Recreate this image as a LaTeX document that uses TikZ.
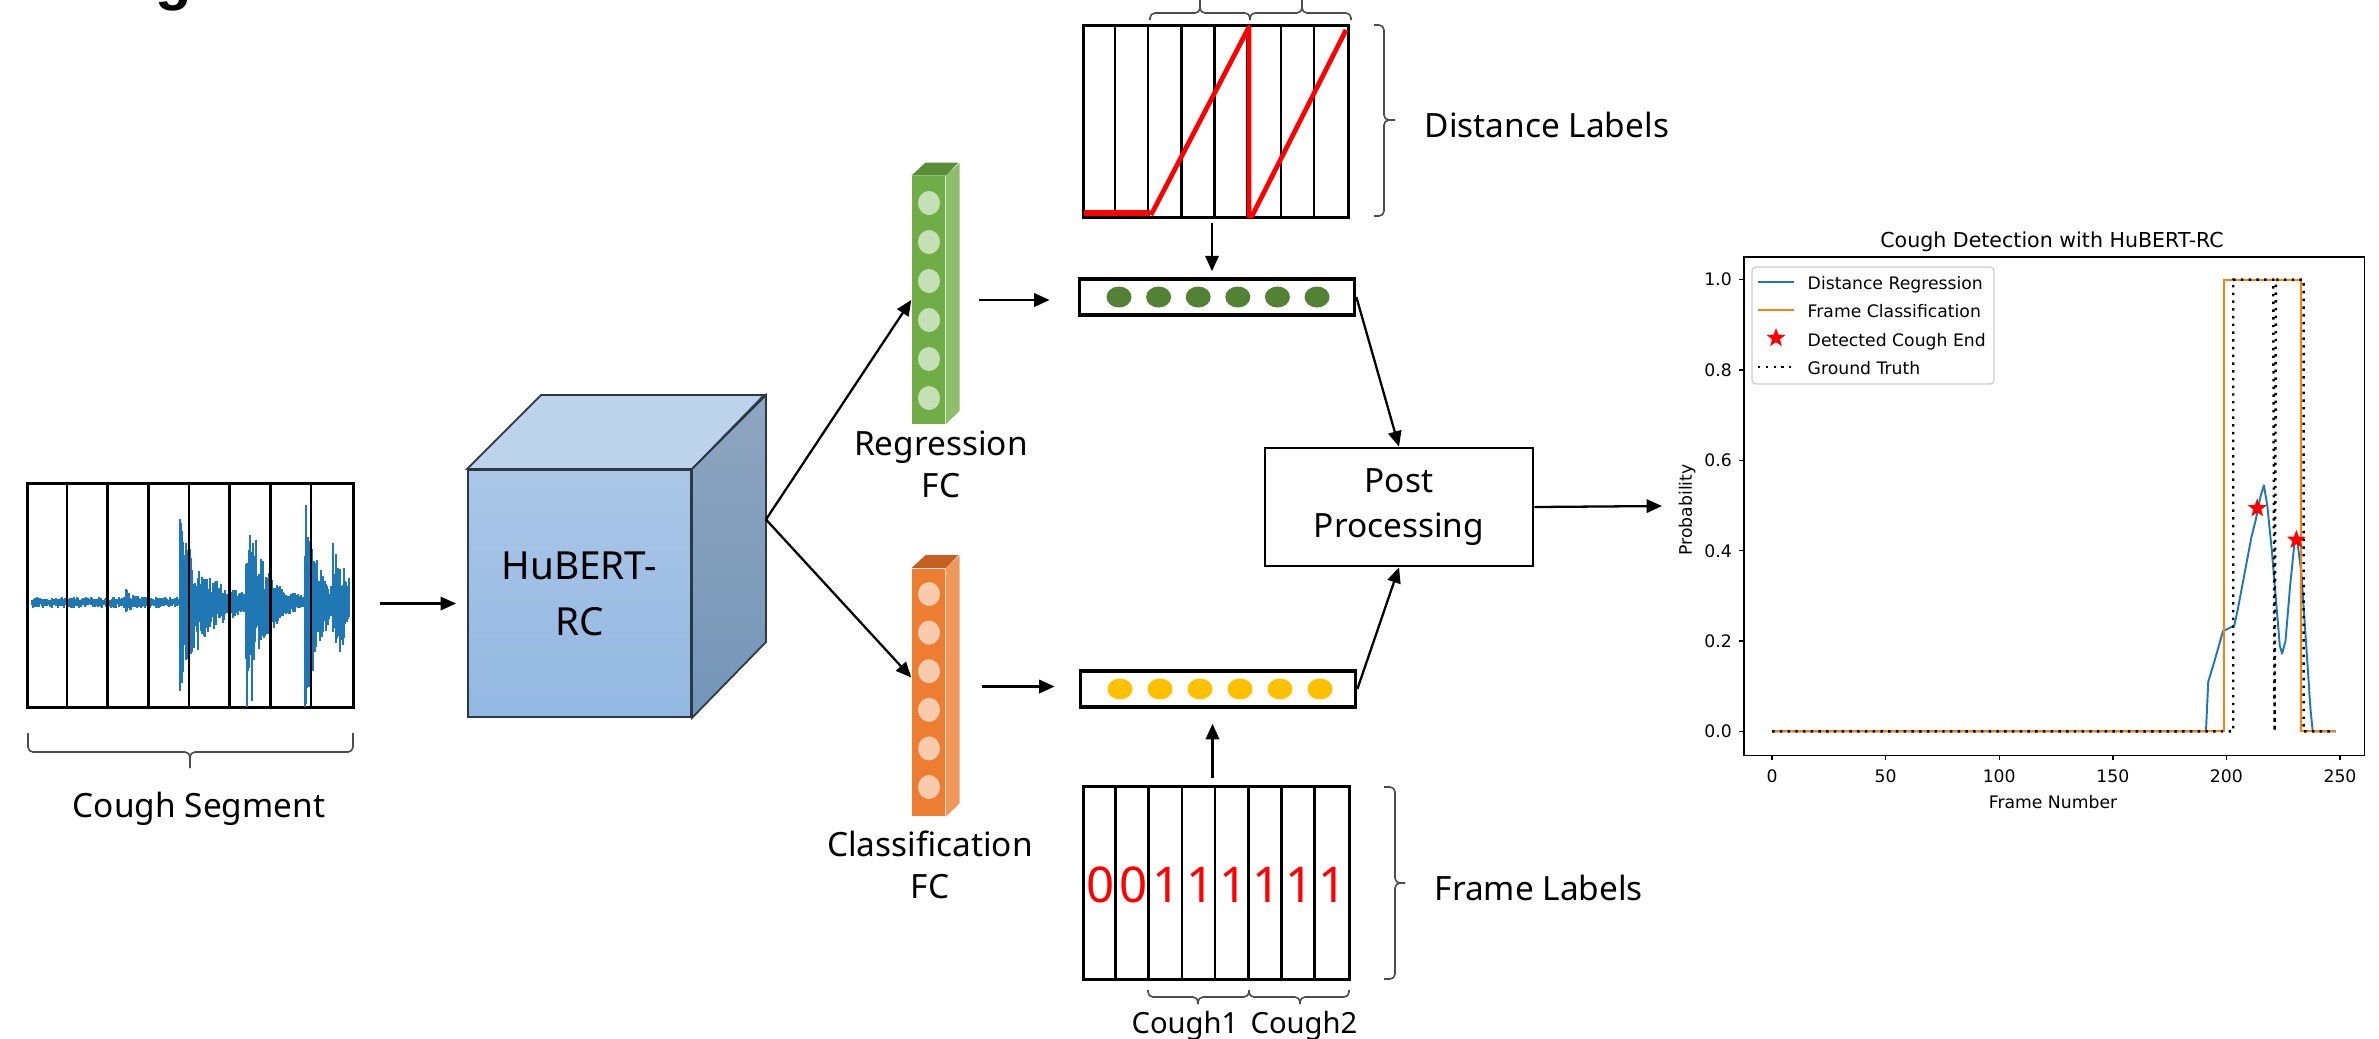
\documentclass[tikz,border=0pt]{standalone}
\usepackage{fontspec}
\setmainfont{Noto Sans}
\newfontfamily\plotfont{DejaVu Sans}
\newfontfamily\headfont{Liberation Sans}
\usetikzlibrary{arrows.meta,shapes.geometric}
\definecolor{mplblue}{HTML}{1F77B4}
\definecolor{mplorange}{HTML}{FF7F0E}
\definecolor{cubetop}{HTML}{BDD3EC}
\definecolor{cubeup}{HTML}{AAC6E7}
\definecolor{cubedown}{HTML}{93B8E2}
\definecolor{cubeside}{HTML}{8EA6C0}
\definecolor{cubeshadow}{HTML}{7495B8}
\definecolor{cubeedge}{HTML}{2B3846}
\definecolor{gfront}{HTML}{70AD47}
\definecolor{gside}{HTML}{8FBE6B}
\definecolor{gtop}{HTML}{5B8D38}
\definecolor{gunit}{HTML}{C5E0B4}
\definecolor{ofront}{HTML}{ED7D31}
\definecolor{oside}{HTML}{F0985C}
\definecolor{otop}{HTML}{C55F22}
\definecolor{ounit}{HTML}{F8CBAD}
\definecolor{gdot}{HTML}{548235}
\definecolor{ydot}{HTML}{FFC000}
\tikzset{%
  labelbox/.style = {shape=rectangle, draw, line width=0.85pt,%
                     minimum width=2.655cm, minimum height=1.925cm},%
  gridline/.style = {line width=0.75pt},%
  vecbox/.style   = {shape=rectangle, draw, line width=1pt,%
                     minimum width=2.75cm, minimum height=0.36cm},%
  fcbar/.style    = {shape=rectangle, minimum width=0.33cm, minimum height=2.47cm},%
  hint/.style     = {draw=black!70, line width=0.45pt, rounded corners=0.05cm},%
  arr/.style      = {->, line width=0.65pt},%
  digit/.style    = {anchor=base, text=red, font=\fontsize{14}{16}\selectfont},%
  plotnode/.style = {font=\plotfont\fontsize{4.9}{6}\selectfont},%
  gtline/.style   = {line width=0.7pt, dash pattern=on 0.7pt off 1.5pt},%
  redstar/.style  = {star, star points=5, star point ratio=2.4, fill=red,%
                     minimum size=0.2cm}%
}
\begin{document}
\begin{tikzpicture}[x=0.01cm, y=-0.01cm,
	every node/.style = {font=\fontsize{9.5}{12}\selectfont, inner sep=0pt},
	>={Triangle[length=4.4pt,width=3.8pt]}]
\useasboundingbox (0,0) rectangle (2379,1038);
	\node[anchor=base, font=\headfont\bfseries\fontsize{17}{20}\selectfont] (figtitle) at (174,-2) {g};
% input segment
	\node[labelbox, minimum width=3.25cm, minimum height=2.23cm] (seg) at (190.5,595.5) {};
	\begin{scope}
		\clip ([shift={(0.02cm,-0.02cm)}]seg.north west) rectangle ([shift={(-0.02cm,0.02cm)}]seg.south east);
		\pgfmathsetseed{42}
		\foreach \x in {32,...,349}{
			\pgfmathsetmacro{\env}{5+9*(\x>125)*exp(-max(0,\x-126)/5)+78*(\x>179)*exp(-max(0,\x-180)/24)+115*(\x>245)*exp(-max(0,\x-246)/14)+98*(\x>304)*exp(-max(0,\x-305)/13)+48*(\x>332)*exp(-max(0,\x-333)/16)}
			\pgfmathsetmacro{\up}{\env*(0.3+0.7*rnd)}
			\pgfmathsetmacro{\dn}{\env*(0.35+0.85*rnd)}
			\draw[mplblue, line width=0.4pt] (\x,602-\up) -- (\x,602+\dn);
		}
	\end{scope}
	\foreach \k in {1,...,7}
		\draw[gridline] ([xshift=\k*0.40625cm]seg.north west) -- ([xshift=\k*0.40625cm]seg.south west);
	\draw[hint] (28,733) |- (190,752) -- (190,768);
	\draw[hint] (353,733) |- (190,752) -- (190,768);
	\node[anchor=base] (seglab) at (199,817) {Cough Segment};
% encoder
	\node[shape=rectangle, draw=cubeedge, line width=0.5pt, top color=cubeup, bottom color=cubedown,
		minimum width=2.23cm, minimum height=2.47cm, align=center,
		font=\fontsize{11}{16}\selectfont] (cube) at (579.5,593.5) {HuBERT-\\RC};
	\filldraw[draw=cubeedge, fill=cubetop, line width=0.5pt] (cube.north west) -- ++(74,-74) -- ++(223,0) -- (cube.north east) -- cycle;
	\shadedraw[draw=cubeedge, top color=cubeside, bottom color=cubeshadow, line width=0.5pt] (cube.north east) -- ++(74,-74) -- ++(0,247) -- (cube.south east) -- cycle;
	\coordinate (cubeout) at ([shift={(0.74cm,0.74cm)}]cube.east);
% heads
	\node[fcbar, fill=gfront] (regfc) at (928.5,300) {};
	\fill[gside] (regfc.north east) -- ++(14,-13) -- ++(0,248) -- (regfc.south east) -- cycle;
	\fill[gtop] (regfc.north west) -- ++(14,-13) -- ++(33,0) -- (regfc.north east) -- cycle;
	\foreach \k in {0,...,5}
		\fill[gunit] (929,203+39*\k) ellipse [x radius=0.11cm, y radius=0.12cm];
	\node[align=center] (reglab) at (941,464) {Regression\\FC};
	\node[fcbar, fill=ofront] (clsfc) at (928.5,692.5) {};
	\fill[oside] (clsfc.north east) -- ++(14,-13) -- ++(0,248) -- (clsfc.south east) -- cycle;
	\fill[otop] (clsfc.north west) -- ++(14,-13) -- ++(33,0) -- (clsfc.north east) -- cycle;
	\foreach \k in {0,...,5}
		\fill[ounit] (929,594+38.6*\k) ellipse [x radius=0.11cm, y radius=0.12cm];
	\node[align=center] (clslab) at (930,864.5) {Classification\\FC};
% outputs and targets
	\node[vecbox] (regvec) at (1217,297) {};
	\foreach \k in {0,...,5}
		\fill[gdot] (1119+39.6*\k,297) ellipse [x radius=0.125cm, y radius=0.105cm];
	\node[vecbox] (clsvec) at (1218,689) {};
	\foreach \k in {0,...,5}
		\fill[ydot] (1120+40*\k,689) ellipse [x radius=0.125cm, y radius=0.105cm];
	\node[labelbox] (distlab) at (1216,121.5) {};
	\foreach \k in {1,...,7}
		\draw[gridline] ([xshift=\k*0.3319cm]distlab.north west) -- ([xshift=\k*0.3319cm]distlab.south west);
	\draw[red, line width=1.8pt] (1084,213) -- (1150,213);
	\draw[red, line width=1.35pt, line join=round] (1151,215) -- (1249,27) -- (1249,216) -- (1252,216) -- (1346,30);
	\draw[hint] (1150,20) |- (1200,13) -- (1200,-2);
	\draw[hint] (1250,20) |- (1200,13) -- (1200,-2);
	\draw[hint] (1250,20) |- (1302,13) -- (1302,-2);
	\draw[hint] (1351,20) |- (1302,13) -- (1302,-2);
	\draw[hint] (1374,25) -| (1384,120) -- (1395,120);
	\draw[hint] (1374,216) -| (1384,120) -- (1395,120);
	\node[anchor=base west] (distname) at (1424,137) {Distance Labels};
	\node[labelbox] (framelab) at (1216.5,883) {};
	\foreach \k in {1,...,7}
		\draw[gridline] ([xshift=\k*0.3319cm]framelab.north west) -- ([xshift=\k*0.3319cm]framelab.south west);
	\foreach \d [count=\k] in {0,0,1,1,1,1,1,1}
		\node[digit] (d\k) at (1084+33.19*\k-16.6,902) {\d};
	\draw[hint] (1384,787) -| (1395,883) -- (1405,883);
	\draw[hint] (1384,979) -| (1395,883) -- (1405,883);
	\node[anchor=base west] (framename) at (1434,900) {Frame Labels};
	\draw[hint] (1148,990) |- (1198,997) -- (1198,1004);
	\draw[hint] (1249,990) |- (1198,997) -- (1198,1004);
	\draw[hint] (1249,990) |- (1300,997) -- (1300,1004);
	\draw[hint] (1349,990) |- (1300,997) -- (1300,1004);
	\node[anchor=base, font=\fontsize{8.3}{10}\selectfont] (cough1) at (1185,1033) {Cough1};
	\node[anchor=base, font=\fontsize{8.3}{10}\selectfont] (cough2) at (1304,1033) {Cough2};
	\node[draw, line width=0.75pt, minimum width=2.68cm, minimum height=1.18cm, align=center,
		font=\fontsize{9.5}{13}\selectfont] (post) at (1399,507) {Post\\Processing};
	\coordinate (plotin) at (1662,506);
% connectors
	\draw[arr, shorten <=0.25cm, shorten >=0.11cm] ([yshift=-0.08cm]seg.east) -- ([yshift=-0.08cm]seg.east -| cube.west);
	\draw[arr] (cubeout) -- (regfc.west);
	\draw[arr] (cubeout) -- ([yshift=0.15cm]clsfc.west);
	\draw[arr, shorten <=0.33cm, shorten >=0.28cm] (regfc.east) -- (regfc.east -| regvec.west);
	\draw[arr, shorten <=0.36cm, shorten >=0.24cm] ([yshift=0.06cm]clsfc.east) -- ([yshift=0.06cm]clsfc.east -| clsvec.west);
	\draw[arr, shorten <=0.04cm, shorten >=0.06cm] ([xshift=-0.04cm]distlab.south) -- ([xshift=-0.04cm]distlab.south |- regvec.north);
	\draw[arr, shorten <=0.07cm, shorten >=0.15cm] ([xshift=-0.04cm]framelab.north) -- ([xshift=-0.04cm]framelab.north |- clsvec.south);
	\draw[arr] (regvec.east) -- (post.north);
	\draw[arr] (clsvec.east) -- (post.south);
	\draw[arr] (post.east) -- (plotin);
% result plot
	\begin{scope}[xshift=17.71cm, yshift=-7.31cm, x=0.0227cm, y=4.515cm]
		\foreach \t in {0,50,...,250}{
			\draw[line width=0.4pt] (\t,-0.053) -- (\t,-0.064);
			\node[plotnode] (xt\t) at (\t,-0.0997) {\t};
		}
		\foreach \t [count=\k] in {0.0,0.2,0.4,0.6,0.8,1.0}{
			\draw[line width=0.4pt] (-12.35,\t) -- (-14.6,\t);
			\node[plotnode, anchor=east] (yt\k) at (-17.4,\t) {\t};
		}
		\draw[mplblue, line width=0.55pt, line join=round] plot coordinates {(0,0) (191,0) (192,0.11) (195,0.16) (198.5,0.222) (201,0.228) (203.5,0.235) (205,0.27) (208,0.35) (211,0.43) (213,0.47) (215,0.52) (216.5,0.545) (218,0.5) (220,0.4) (222,0.28) (223.5,0.19) (224.5,0.172) (226,0.2) (228,0.32) (230,0.42) (231,0.43) (233,0.35) (235,0.2) (237,0.05) (238,0) (248,0)};
		\draw[mplorange, line width=0.55pt] plot coordinates {(0,0) (199,0) (199,1) (233,1) (233,0) (248,0)};
		\node[redstar] (end1) at (213.6,0.494) {};
		\node[redstar] (end2) at (230.8,0.424) {};
		\draw[gtline] plot coordinates {(0,0) (203,0) (203,1) (220.6,1) (221.2,0) (221.8,1) (234,1) (234,0) (248,0)};
		\draw[line width=0.45pt] (-12.35,-0.053) rectangle (260.8,1.05);
	\end{scope}
	\node[plotnode, font=\plotfont\fontsize{5.85}{7}\selectfont, anchor=base] (ptitle) at (2052,247) {Cough Detection with HuBERT-RC};
	\node[plotnode, anchor=base] (xlab) at (2053,808) {Frame Number};
	\node[plotnode, rotate=90] (ylab) at (1687,510) {Probability};
	\node[draw=black!20, fill=white, rounded corners=0.04cm, line width=0.35pt,
		minimum width=2.42cm, minimum height=1.17cm] (legend) at (1873,325.5) {};
	\draw[mplblue, line width=0.55pt] (1758,282) -- (1794,282);
	\node[plotnode, anchor=base west] (lg1) at (1807,289) {Distance Regression};
	\draw[mplorange, line width=0.55pt] (1758,310) -- (1794,310);
	\node[plotnode, anchor=base west] (lg2) at (1807,317.5) {Frame Classification};
	\node[redstar] (lgstar) at (1776,338) {};
	\node[plotnode, anchor=base west] (lg3) at (1807,346) {Detected Cough End};
	\draw[gtline] (1758,367) -- (1794,367);
	\node[plotnode, anchor=base west] (lg4) at (1807,374.5) {Ground Truth};
\end{tikzpicture}
\end{document}
